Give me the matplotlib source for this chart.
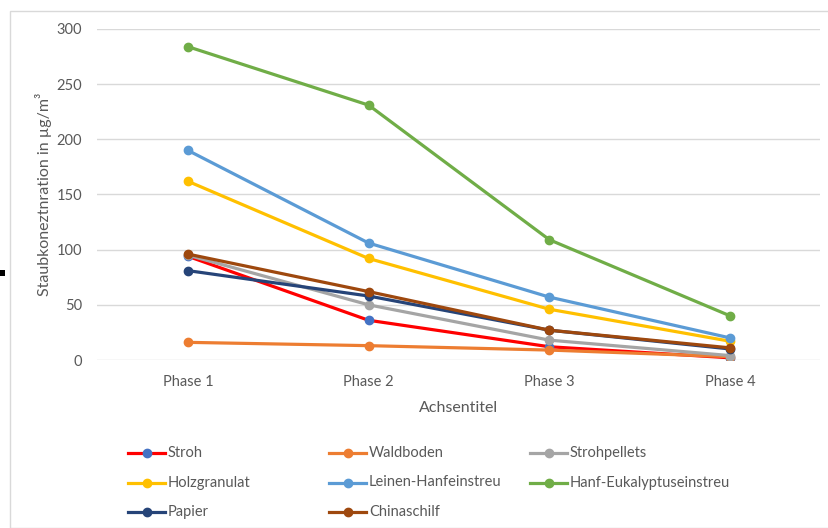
import matplotlib.pyplot as plt
from matplotlib.lines import Line2D
from matplotlib.patches import Rectangle

# Staubkonzentration je Einstreu über vier Phasen
phasen = ["Phase 1", "Phase 2", "Phase 3", "Phase 4"]

stroh = [94, 36, 12, 2]
waldboden = [16, 13, 9, 3]
strohpellets = [95, 50, 18, 4]
holzgranulat = [162, 92, 46, 17]
leinen_hanf = [190, 106, 57, 20]
hanf_eukalyptus = [284, 231, 109, 40]
papier = [81, 58, 27, 10]
chinaschilf = [96, 62, 27, 11]

namen = ["Stroh", "Waldboden", "Strohpellets", "Holzgranulat",
         "Leinen-Hanfeinstreu", "Hanf-Eukalyptuseinstreu", "Papier", "Chinaschilf"]
reihen = [stroh, waldboden, strohpellets, holzgranulat,
          leinen_hanf, hanf_eukalyptus, papier, chinaschilf]
linienfarben = ["#FF0000", "#ED7D31", "#A5A5A5", "#FFC000",
                "#5B9BD5", "#70AD47", "#264478", "#9E480E"]
markerfarben = ["#4472C4", "#ED7D31", "#A5A5A5", "#FFC000",
                "#5B9BD5", "#70AD47", "#264478", "#9E480E"]

plt.rcParams["font.family"] = ["Lato", "DejaVu Sans"]
W, H = 829, 528
fig = plt.figure(figsize=(W / 100, H / 100), dpi=100)

# Rahmen um das Diagramm
fig.patches.append(Rectangle((10 / W, 0), 1, 1 - 11 / H, transform=fig.transFigure,
                             fill=False, edgecolor="#D9D9D9", linewidth=1))
fig.patches.append(Rectangle((0, 1 - 276 / H), 5 / W, 6 / H, transform=fig.transFigure,
                             facecolor="black", edgecolor="none"))

ax = fig.add_axes([97.5 / W, 1 - 360 / H, 723 / W, 331 / H])
x = range(len(phasen))
for werte, lf, mf in zip(reihen, linienfarben, markerfarben):
    ax.plot(x, werte, color=lf, linewidth=2.3, marker="o", markersize=6,
            markerfacecolor=mf, markeredgecolor=mf, solid_capstyle="round", zorder=3)

ax.set_xlim(-0.5, 3.5)
ax.set_ylim(0, 300)
ax.set_yticks(range(0, 301, 50))
ax.set_xticks(list(x))
ax.set_xticklabels(phasen)
ax.grid(axis="y", color="#D9D9D9", linewidth=1)
ax.set_axisbelow(True)
for s in ax.spines.values():
    s.set_visible(False)
ax.tick_params(length=0, colors="#595959", labelsize=10.5)
ax.tick_params(axis="y", pad=11)
ax.tick_params(axis="x", pad=11)
ax.set_ylabel("Staubkoneztnration in µg/m³", color="#595959", fontsize=11.5)
ax.yaxis.set_label_coords((52 - 97.5) / 723, 0.5)
ax.set_xlabel("Achsentitel", color="#595959", fontsize=11.5, va="center")
ax.xaxis.set_label_coords((459 - 97.5) / 723, -(408 - 360) / 331)

# Legende in drei Spalten
for i, (name, lf, mf) in enumerate(zip(namen, linienfarben, markerfarben)):
    sp, ze = i % 3, i // 3
    x0 = 128 + 201 * sp
    y0 = 1 - (453 + 29.5 * ze) / H
    fig.lines.append(Line2D([x0 / W, (x0 + 37) / W], [y0, y0], transform=fig.transFigure,
                            color=lf, linewidth=2.3))
    fig.lines.append(Line2D([(x0 + 19) / W], [y0], transform=fig.transFigure,
                            marker="o", markersize=6, color=mf, linestyle="none"))
    fig.text((x0 + 40) / W, y0, name, color="#595959", fontsize=10.5, va="center", ha="left")

fig.savefig("out.png", dpi=100)
